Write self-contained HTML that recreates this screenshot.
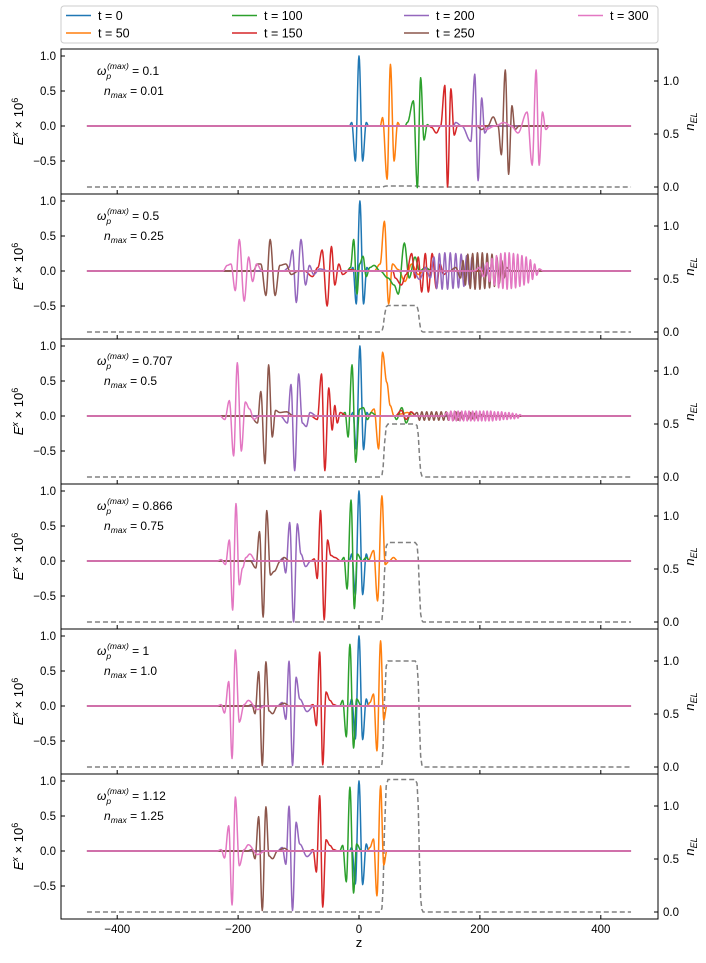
<!DOCTYPE html>
<html><head><meta charset="utf-8">
<style>
html,body{margin:0;padding:0;background:#fff;}
svg{display:block;font-family:"Liberation Sans","DejaVu Sans",sans-serif;}
</style></head>
<body>
<svg id="chart" width="706" height="963" viewBox="0 0 706 963" xmlns="http://www.w3.org/2000/svg">
<g id="legend">
<rect x="61" y="6" width="597" height="37" rx="3" fill="#fff" stroke="#cccccc" stroke-width="1"/>
</g>
<g id="panels"></g>
<text x="359" y="947" font-size="13" text-anchor="middle">z</text>
</svg>
<script>
// ---- data ----
const seriesLabels = ["t = 0","t = 50","t = 100","t = 150","t = 200","t = 250","t = 300"];
const seriesColors = ["#1f77b4","#ff7f0e","#2ca02c","#d62728","#9467bd","#8c564b","#e377c2"];
const omegaLabels = ["0.1","0.5","0.707","0.866","1","1.12"];
const nmaxValues = [0.01,0.25,0.5,0.75,1.0,1.25];
const nmaxLabels = ["0.01","0.25","0.5","0.75","1.0","1.25"];
const leftTicks = [1.0,0.5,0.0,-0.5];
const leftTickLabels = ["1.0","0.5","0.0","\u22120.5"];
const rightTicks = [0.0,0.5,1.0];
const rightTickLabels = ["0.0","0.5","1.0"];
const xTicks = [-400,-200,0,200,400];
const xTickLabels = ["\u2212400","\u2212200","0","200","400"];
// density profile (fraction of nmax) along z
const profileZ = [-450,36,38,40,42,45,48,93,96,98,100,102,104,106,450];
const profileF = [0,0,0.03,0.2,0.6,0.95,1,1,0.97,0.8,0.4,0.1,0.02,0,0];

// panel 1 (n_max=0.01) wave extrema [z, E]
const p1_t0 = [[-12,0.05],[-6,-0.5],[0,1.0],[6,-0.5],[12,0.05]];
const p1_t50 = [[39,0.12],[46.5,-0.76],[52,0.88],[58,-0.5],[64,0.05]];
const p1_t100 = [[80,0.05],[90,0.36],[96.5,-0.88],[102,0.69],[107.5,-0.2],[113,0.02]];
const p1_t150 = [[120,-0.02],[128,-0.1],[135,0],[142,0.58],[146.5,-0.87],[152,0.53],[157.5,-0.13],[163,0]];
const p1_t200 = [[160,0.05],[170,0],[185,-0.22],[191.5,0.74],[197,-0.78],[203,0.4],[208,-0.1],[215,0]];
const p1_t250 = [[195,0],[202.5,-0.05],[213,0],[222,0.13],[230,0],[235.5,-0.41],[242,0.8],[247.5,-0.69],[253,0.29],[258,-0.05],[265,0]];
const p1_t300 = [[210,-0.05],[225,0],[240,0.05],[252,0],[263,-0.1],[278,0.2],[286.5,-0.56],[293,0.8],[298,-0.56],[303.5,0.2],[309,-0.05],[315,0]];

// panel 2 (n_max=0.25)
const p2_t0 = [[-10,0.05],[-4.5,-0.47],[1.5,1.0],[7.5,-0.47],[13,0.05]];
const p2_t50 = [[25,0],[35,0.1],[42,0.71],[49,-0.47],[55.5,0.1],[65,0.02],[76,-0.15],[87,0.1],[98,-0.05],[110,0.03],[125,0]];
const p2_t100 = [[-20,0],[-14,0.05],[-8.8,0.45],[-3.3,-0.33],[1,0.1],[6.6,0.21],[12,-0.08],[18,0.05],[25,0.08],[35,0],[48,-0.1],[58,-0.2],[65,-0.33],[75,0.4],[83,-0.1],[92.7,0.2],[100,0],[110,0.05],[120,0]];
const p2_t150 = [[-90,0],[-77,-0.08],[-68,0.05],[-61,0.3],[-52.7,-0.5],[-45.6,0.35],[-40,-0.2],[-33.4,0.1],[-27,-0.05],[-15,0.02],[0,0],[40,0],[60,-0.1],[70,-0.2],[78,-0.05],[87,0.25],[92.7,-0.1],[98,0.2],[103.7,-0.3],[109.7,0.25],[114.7,-0.3],[121,0.25],[128,-0.25],[134,0.1],[140,-0.05],[148,0]];
const p2_t200 = [[-125,0],[-116,0.05],[-110,0.3],[-103.7,-0.45],[-96,0.45],[-88.4,-0.2],[-82,0.08],[-75,-0.05],[-65,0.03],[-50,0],[90,0],[100,-0.12],[110,0.05],[118,-0.1],[124,0.2],[128.5,-0.25],[133,0.25],[137.5,-0.26],[142,0.26],[146.5,-0.26],[151,0.26],[155.5,-0.25],[160,0.25],[164.5,-0.24],[169,0.24],[173.5,-0.22],[178,0.22],[182.5,-0.2],[187,0.2],[191.5,-0.17],[196,0.17],[200.5,-0.14],[205,0.12],[209.5,-0.08],[214,0.05],[220,0]];
const p2_t250 = [[-175,0],[-168,0.1],[-162.4,0.1],[-154,-0.35],[-147,0.45],[-138.8,-0.35],[-131,0.08],[-121,0.1],[-112,-0.05],[-100,0],[150,0],[160,0.05],[168,-0.1],[172,0.15],[176,-0.2],[180,0.24],[184,-0.25],[188,0.25],[192,-0.26],[196,0.26],[200,-0.26],[204,0.26],[208,-0.25],[212,0.25],[216,-0.24],[220,0.24],[224,-0.22],[228,0.2],[232,-0.18],[236,0.15],[240,-0.1],[244,0.05],[250,0]];
const p2_t300 = [[-225,0],[-218,0.08],[-211.8,0.1],[-204.7,-0.28],[-198,0.45],[-189.9,-0.43],[-182.6,0.2],[-176,-0.15],[-169.5,0.1],[-160,0],[190,0],[200,0.05],[206,-0.08],[212,0.12],[216,-0.15],[220,0.18],[224,-0.2],[227.5,0.22],[231,-0.24],[234.5,0.25],[238,-0.25],[241.5,0.26],[245,-0.26],[248.5,0.26],[252,-0.25],[255.5,0.25],[259,-0.24],[262.5,0.24],[266,-0.22],[269.5,0.22],[273,-0.2],[276.5,0.2],[280,-0.17],[283.5,0.16],[287,-0.12],[290.5,0.1],[294,-0.06],[298,0.03],[305,0]];

// panel 3 (n_max=0.5)
const p3_t0 = [[-10,0.05],[-4.5,-0.47],[1.5,1.0],[7.5,-0.48],[13,0.05]];
const p3_t50 = [[15,0],[25,0.1],[32.4,-0.47],[39,0.91],[46,0.48],[51.6,0.15],[58,0],[70,0.03],[80,0.05],[90,0]];
const p3_t100 = [[-30,0],[-23,0.05],[-18,-0.3],[-11.5,0.73],[-5.5,-0.66],[1,0.1],[7,0.12],[14,-0.05],[20,0.05],[30,0],[62,-0.05],[70.8,0.12],[78,-0.1],[86,0.05],[95,0]];
const p3_t150 = [[-80,0],[-69,-0.05],[-62,0.6],[-56.5,-0.78],[-50,0.4],[-44.4,-0.2],[-40,0.15],[-36,-0.1],[-31,0.05],[-20,0],[60,0],[70,0.08],[78,-0.05],[86,0.06],[95,0]];
const p3_t200 = [[-130,0],[-118.5,-0.1],[-112.5,0.45],[-106.4,-0.78],[-99.8,0.6],[-93.8,-0.1],[-87.2,-0.15],[-81,0.05],[-70,0]];
const p3_t250 = [[-180,0],[-168,-0.1],[-162.4,0.35],[-155.6,-0.68],[-149.5,0.73],[-143.5,-0.3],[-138,0.08],[-131,0.05],[-120,0.06],[-108,0],[90,0],[96,0.05],[100,-0.06],[104,0.06],[108,-0.06],[112,0.06],[116,-0.06],[120,0.06],[124,-0.06],[128,0.06],[132,-0.06],[136,0.06],[140,-0.06],[144,0.06],[148,-0.06],[152,0.06],[156,-0.06],[160,0.06],[164,-0.06],[168,0.05],[172,-0.05],[176,0.05],[180,-0.05],[184,0.05],[188,-0.04],[192,0.04],[196,-0.04],[200,0.03],[206,0]];
const p3_t300 = [[-230,0],[-222,-0.05],[-214.5,0.22],[-207.4,-0.57],[-201.3,0.76],[-194.7,-0.5],[-188,0.2],[-181,0.1],[-174,-0.05],[-165,0],[140,0],[146,0.05],[149,-0.06],[152,0.07],[155,-0.07],[158,0.07],[161,-0.07],[164,0.07],[167,-0.07],[170,0.07],[173,-0.07],[176,0.07],[179,-0.07],[182,0.07],[185,-0.07],[188,0.07],[191,-0.07],[194,0.07],[197,-0.07],[200,0.07],[203,-0.07],[206,0.07],[209,-0.07],[212,0.07],[215,-0.07],[218,0.07],[221,-0.07],[224,0.06],[227,-0.06],[230,0.06],[233,-0.06],[236,0.06],[239,-0.05],[242,0.05],[245,-0.05],[248,0.05],[251,-0.04],[254,0.04],[257,-0.04],[260,0.03],[263,-0.03],[266,0.02],[270,0]];

// panel 4 (n_max=0.75)
const p4_t0 = [[-12,0.1],[-6,-0.48],[0,1.0],[6,-0.48],[12,0.1]];
const p4_t50 = [[15,0],[24.2,0.15],[30.7,-0.57],[37.9,0.93],[43.3,-0.05],[50,0],[57,0.05],[64,0]];
const p4_t100 = [[-30,0],[-25,0.05],[-19.7,-0.4],[-13.2,0.87],[-7.7,-0.68],[-2.7,0.1],[5,0],[12,0.05],[18,0]];
const p4_t150 = [[-80,0],[-74,0.03],[-69.1,-0.25],[-63.6,0.72],[-57.6,-0.84],[-52,0.3],[-46.6,0.08],[-40,0.05],[-30,0]];
const p4_t200 = [[-132,0],[-126,0.04],[-121.3,-0.17],[-114.7,0.55],[-108.2,-0.87],[-102,0.53],[-96,0.1],[-88.3,-0.08],[-80,0]];
const p4_t250 = [[-180,0],[-170.7,-0.1],[-164.6,0.42],[-158.6,-0.8],[-152.6,0.72],[-146.5,-0.2],[-140.5,-0.15],[-130,0],[-124,0.05],[-115,0]];
const p4_t300 = [[-235,0],[-228,0.02],[-221,-0.05],[-214.5,0.3],[-209,-0.7],[-203.5,0.82],[-198,-0.34],[-192.6,-0.1],[-187,0.05],[-180.5,0.1],[-170.7,0],[-160,0]];

// panels 5 (n_max=1.0) and 6 (n_max=1.25)
const p5_t0 = [[-12,0.1],[-6,-0.47],[0,1.0],[6,-0.48],[12,0.1]];
const p5_t50 = [[14,0],[18,0.05],[24,0.17],[29.7,-0.64],[35.7,0.93],[41,-0.2],[46,0]];
const p5_t100 = [[-32,0],[-27,0.08],[-21,-0.44],[-15,0.88],[-9,-0.6],[-4,0.1],[4,0]];
const p5_t150 = [[-82,0],[-76,0.02],[-70.5,-0.28],[-65,0.77],[-60,-0.84],[-54.5,0.2],[-48,0.08],[-42,0.02],[-35,0]];
const p5_t200 = [[-135,0],[-127,0.05],[-121,-0.19],[-115.7,0.64],[-110,-0.85],[-104,0.41],[-98,0.1],[-86,-0.08],[-75,0]];
const p5_t250 = [[-185,0],[-177,0.02],[-172,-0.11],[-166,0.49],[-160,-0.85],[-154,0.63],[-149,-0.07],[-143,-0.11],[-135,0],[-124,0.04],[-115,0]];
const p5_t300 = [[-235,0],[-228,0.02],[-222.5,-0.1],[-215.5,0.35],[-210,-0.75],[-204.5,0.8],[-198,-0.23],[-190,0.02],[-183,0.08],[-168,-0.05],[-155,0]];

const p6_t0 = [[-12,0.05],[-6,-0.47],[0,1.0],[6,-0.48],[12,0.1]];
const p6_t50 = [[14,0],[18,0.05],[24,0.17],[29.7,-0.64],[35.7,0.93],[41,-0.2],[46,0]];
const p6_t100 = [[-32,0],[-27,0.08],[-21,-0.44],[-15,0.91],[-9,-0.6],[-4,0.1],[4,0]];
const p6_t150 = [[-82,0],[-76,0.02],[-70.5,-0.3],[-65,0.79],[-60,-0.8],[-54.5,0.16],[-48,0.08],[-42,0.02],[-35,0]];
const p6_t200 = [[-135,0],[-127,0.05],[-121,-0.19],[-115.7,0.64],[-110,-0.85],[-104,0.41],[-98,0.1],[-86,-0.08],[-75,0]];
const p6_t250 = [[-185,0],[-177,0.02],[-172,-0.11],[-166,0.49],[-160,-0.85],[-154,0.63],[-149,-0.07],[-143,-0.11],[-135,0],[-124,0.04],[-115,0]];
const p6_t300 = [[-235,0],[-228,0.02],[-222.5,-0.1],[-215.5,0.36],[-210,-0.77],[-204.5,0.77],[-198,-0.21],[-190,0.02],[-183,0.09],[-168,-0.05],[-155,0]];

const panelSeries = [
 [p1_t0,p1_t50,p1_t100,p1_t150,p1_t200,p1_t250,p1_t300],
 [p2_t0,p2_t50,p2_t100,p2_t150,p2_t200,p2_t250,p2_t300],
 [p3_t0,p3_t50,p3_t100,p3_t150,p3_t200,p3_t250,p3_t300],
 [p4_t0,p4_t50,p4_t100,p4_t150,p4_t200,p4_t250,p4_t300],
 [p5_t0,p5_t50,p5_t100,p5_t150,p5_t200,p5_t250,p5_t300],
 [p6_t0,p6_t50,p6_t100,p6_t150,p6_t200,p6_t250,p6_t300]
];

// ---- layout / scales ----
const NS = "http://www.w3.org/2000/svg";
const L = 61, R = 658, TOP = 49, PH = 145;
const zMin = -450, zMax = 450;
function X(z){ return 359 + 0.6045*z; }
function YE(top, e){ return top + 77 - 70*e; }
function YN(top, n){ return top + 138 - 106*n; }
function mk(tag, attrs, parent){
  const el = document.createElementNS(NS, tag);
  for (const k in attrs) el.setAttribute(k, attrs[k]);
  parent.appendChild(el); return el;
}
function cosSeg(a, b, top){
  let d = "";
  for (let k=1;k<=8;k++){
    const t = k/8;
    const z = a[0] + (b[0]-a[0])*t;
    const e = a[1] + (b[1]-a[1])*(1-Math.cos(Math.PI*t))/2;
    d += "L" + X(z).toFixed(2) + "," + YE(top, e).toFixed(2);
  }
  return d;
}
function wavePath(pts, top){
  const all = [[zMin,0]].concat(pts.slice().sort((a,b)=>a[0]-b[0])).concat([[zMax,0]]);
  let d = "M" + X(all[0][0]).toFixed(2) + "," + YE(top, all[0][1]).toFixed(2);
  for (let i=1;i<all.length;i++){
    const a = all[i-1], b = all[i];
    if (b[0]-a[0] > 15){
      const a2 = [a[0]+4, 0], b2 = [b[0]-4, 0];
      d += cosSeg(a, a2, top);
      d += "L" + X(b2[0]).toFixed(2) + "," + YE(top, 0).toFixed(2);
      d += cosSeg(b2, b, top);
    } else {
      d += cosSeg(a, b, top);
    }
  }
  return d;
}

const legend = document.getElementById('legend');
const legCols = [66, 232, 404, 578];
seriesLabels.forEach((lab, i) => {
  const col = Math.floor(i/2), row = i%2;
  const y = row === 0 ? 15.5 : 33;
  const g = mk('g', {}, legend);
  
  
  mk('line', {x1: legCols[col], x2: legCols[col]+25, y1: y, y2: y, stroke: seriesColors[i], 'stroke-width': 1.5}, g);
  const t = mk('text', {x: legCols[col]+32, y: y+4.5, 'font-size': 12.5}, g);
  t.textContent = lab;
});

const panels = document.getElementById('panels');
panelSeries.forEach((series, p) => {
  const top = TOP + PH*p, bot = top + PH;
  const g = mk('g', {}, panels);
  
  
  let d = "";
  profileZ.forEach((z, i) => { d += (i?"L":"M") + X(z).toFixed(2) + "," + YN(top, profileF[i]*nmaxValues[p]).toFixed(2); });
  const dens = mk('path', {d: d, fill: 'none', stroke: '#808080', 'stroke-width': 1.5, 'stroke-dasharray': '5,3'}, g);
  
  
  series.forEach((pts, s) => {
    const path = mk('path', {d: wavePath(pts, top), fill: 'none', stroke: seriesColors[s], 'stroke-width': 1.5, 'stroke-linejoin': 'round'}, g);
    
    
  });
  const fr = mk('rect', {x: L, y: top, width: R-L, height: PH, fill: 'none', stroke: '#000', 'stroke-width': 1}, g);
  
  
  leftTicks.forEach((v, i) => {
    const y = YE(top, v);
    mk('line', {x1: L, x2: L+4, y1: y, y2: y, stroke: '#000', 'stroke-width': 1}, g);
    const t = mk('text', {x: L-5, y: y+4, 'font-size': 11.5, 'text-anchor': 'end'}, g);
    
    
    t.textContent = leftTickLabels[i];
  });
  rightTicks.forEach((v, i) => {
    const y = YN(top, v);
    mk('line', {x1: R, x2: R-4, y1: y, y2: y, stroke: '#000', 'stroke-width': 1}, g);
    const t = mk('text', {x: R+5, y: y+4, 'font-size': 11.5}, g);
    
    
    t.textContent = rightTickLabels[i];
  });
  xTicks.forEach((v, i) => {
    const x = X(v);
    mk('line', {x1: x, x2: x, y1: bot, y2: bot-4, stroke: '#000', 'stroke-width': 1}, g);
    if (p === panelSeries.length-1){
      const t = mk('text', {x: x, y: bot+14, 'font-size': 11.5, 'text-anchor': 'middle'}, g);
      
      
      t.textContent = xTickLabels[i];
    }
  });
  const yl = mk('text', {x: 0, y: 0, 'font-size': 13, 'text-anchor': 'middle', transform: 'translate(23,' + (top+PH/2) + ') rotate(-90)'}, g);
  
  
  yl.innerHTML = '<tspan font-style="italic">E</tspan><tspan dy="-5" font-size="9" font-style="italic">x</tspan><tspan dy="5"> \u00d7 10</tspan><tspan dy="-5" font-size="9">6</tspan>';
  const yr = mk('text', {x: 0, y: 0, 'font-size': 13, 'text-anchor': 'middle', transform: 'translate(694,' + (top+PH/2) + ') rotate(-90)'}, g);
  
  
  yr.innerHTML = '<tspan font-style="italic">n</tspan><tspan dy="3" font-size="9" font-style="italic">EL</tspan>';
  const a1 = mk('text', {x: 97, y: top+26, 'font-size': 12}, g);
  
  
  a1.innerHTML = '<tspan font-style="italic">\u03c9</tspan><tspan dy="4" font-size="8.5" font-style="italic">p</tspan><tspan dx="-4" dy="-10" font-size="8.5" font-style="italic">(max)</tspan><tspan dy="6"> = ' + omegaLabels[p] + '</tspan>';
  const a2 = mk('text', {x: 104, y: top+46, 'font-size': 12}, g);
  
  
  a2.innerHTML = '<tspan font-style="italic">n</tspan><tspan dy="3" font-size="8.5" font-style="italic">max</tspan><tspan dy="-3"> = ' + nmaxLabels[p] + '</tspan>';
});
</script>
</body></html>
